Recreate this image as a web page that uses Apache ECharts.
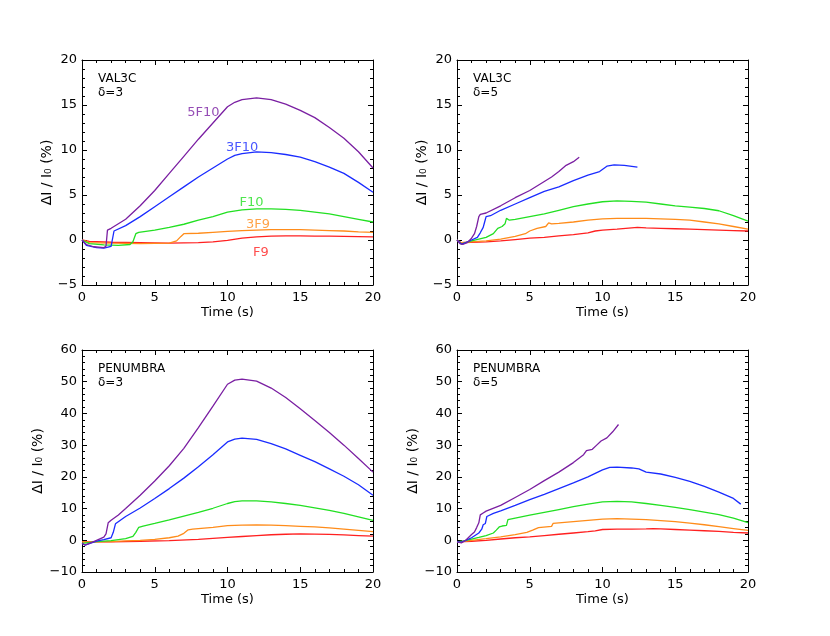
<!DOCTYPE html>
<html>
<head>
<meta charset="utf-8">
<script src="https://cdn.jsdelivr.net/npm/echarts@6/dist/echarts.min.js"></script>
<style>
  html, body { margin: 0; padding: 0; background: #fff; }
  #main { width: 830px; height: 636px; }
</style>
</head>
<body>
<div id="main"></div>
<script>
// panel 1 : VAL3C, delta=3
var val3_5F10 = [[0,0],[0.3,-0.5],[0.8,-0.75],[1.5,-0.85],[1.65,-0.7],[1.75,1.1],[2,1.3],[2.5,1.8],[3,2.3],[4,3.8],[5,5.5],[6,7.4],[7,9.3],[8,11.2],[9,13.0],[10,14.8],[10.5,15.3],[11,15.6],[12,15.8],[13,15.6],[14,15.1],[15,14.4],[16,13.6],[17,12.5],[18,11.3],[19,9.8],[20,8.0]];
var val3_3F10 = [[0,0],[0.3,-0.6],[1,-0.85],[1.5,-0.9],[2,-0.7],[2.2,1.0],[3,1.6],[4,2.6],[5,3.7],[6,4.8],[7,5.9],[8,7.0],[9,8.0],[10,9.0],[10.5,9.4],[11,9.6],[12,9.8],[13,9.7],[14,9.5],[15,9.2],[16,8.7],[17,8.1],[18,7.4],[19,6.4],[20,5.3]];
var val3_F10 = [[0,0],[0.5,-0.4],[1.5,-0.55],[2.5,-0.6],[3.3,-0.5],[3.5,-0.2],[3.7,0.7],[3.9,0.85],[5,1.1],[6,1.4],[7,1.75],[8,2.2],[9,2.6],[10,3.1],[11,3.35],[12,3.45],[13,3.45],[14,3.4],[15,3.3],[16,3.1],[17,2.9],[18,2.6],[19,2.3],[20,2.0]];
var val3_3F9 = [[0,0],[0.5,-0.3],[2,-0.35],[4,-0.4],[6,-0.35],[6.5,-0.1],[6.8,0.4],[7,0.7],[8,0.75],[9,0.85],[10,0.95],[11,1.05],[12,1.1],[13,1.15],[14,1.15],[15,1.15],[16,1.1],[17,1.05],[18,1.0],[19,0.9],[20,0.85]];
var val3_F9 = [[0,0],[0.5,-0.15],[2,-0.25],[4,-0.3],[6,-0.35],[8,-0.3],[9,-0.2],[10,-0.05],[11,0.2],[12,0.35],[13,0.42],[14,0.45],[15,0.45],[16,0.43],[17,0.42],[18,0.4],[19,0.38],[20,0.35]];

// panel 2 : VAL3C, delta=5
var val5_5F10 = [[0,0],[0.2,-0.4],[0.4,-0.5],[0.7,-0.3],[1.0,0.2],[1.2,0.7],[1.35,1.5],[1.5,2.6],[1.6,2.85],[2,3.0],[3,3.8],[4,4.7],[5,5.5],[6,6.5],[6.5,7.0],[7,7.6],[7.5,8.3],[8,8.7],[8.4,9.2]];
var val5_3F10 = [[0,0],[0.3,-0.45],[0.6,-0.3],[1,0],[1.4,0.3],[1.6,0.8],[1.8,1.4],[1.9,2.0],[2.0,2.6],[2.3,2.7],[3,3.3],[4,4.0],[5,4.7],[6,5.4],[7,5.9],[8,6.6],[9,7.2],[9.8,7.6],[10.3,8.2],[10.8,8.35],[11.5,8.3],[12.4,8.1]];
var val5_F10 = [[0,0],[0.3,-0.45],[0.6,-0.3],[1,-0.1],[1.5,0.1],[2,0.3],[2.5,0.7],[2.8,1.3],[3.1,1.5],[3.3,1.8],[3.4,2.4],[3.6,2.2],[4,2.3],[5,2.6],[6,2.9],[7,3.3],[8,3.7],[9,4.0],[10,4.25],[11,4.35],[12,4.3],[13,4.2],[14,4.0],[15,3.8],[16,3.65],[17,3.5],[18,3.25],[19,2.7],[20,2.1]];
var val5_3F9 = [[0,0],[0.3,-0.3],[1,-0.2],[2,-0.1],[3,0.1],[4,0.4],[4.7,0.7],[5.0,1.0],[5.5,1.3],[6.1,1.5],[6.3,1.9],[6.5,1.8],[7,1.85],[8,2.0],[9,2.2],[10,2.35],[11,2.4],[12,2.4],[13,2.4],[14,2.35],[15,2.3],[16,2.2],[17,2.0],[18,1.8],[19,1.5],[20,1.2]];
var val5_F9 = [[0,0],[0.3,-0.3],[1,-0.25],[2,-0.2],[3,-0.1],[4,0.05],[5,0.2],[6,0.3],[7,0.45],[8,0.6],[9,0.8],[9.5,1.0],[10,1.1],[11,1.2],[12,1.35],[12.4,1.4],[13,1.35],[14,1.3],[15,1.25],[16,1.2],[17,1.15],[18,1.1],[19,1.05],[20,1.0]];

// panel 3 : PENUMBRA, delta=3
var pen3_5F10 = [[0,-1],[0.2,-1.5],[0.6,-0.8],[1,0],[1.5,1.0],[1.65,2.0],[1.8,5.5],[2,6.3],[2.5,8.0],[3,10.0],[4,14.2],[5,18.7],[6,23.5],[7,29.0],[8,35.5],[9,42.3],[10,49.2],[10.5,50.5],[11,50.8],[12,50.2],[13,48.0],[14,45.0],[15,41.5],[16,37.8],[17,34.0],[18,30.0],[19,25.8],[20,21.5]];
var pen3_3F10 = [[0,-1],[0.2,-1.5],[0.6,-0.9],[1,-0.3],[1.5,0.2],[2,0.8],[2.15,2.5],[2.3,5.2],[3,7.5],[4,10.2],[5,13.2],[6,16.3],[7,19.6],[8,23.2],[9,27.0],[10,31.0],[10.5,31.9],[11,32.2],[12,31.8],[13,30.5],[14,28.8],[15,26.8],[16,24.8],[17,22.5],[18,20.2],[19,17.5],[20,14.2]];
var pen3_F10 = [[0,-1],[0.3,-0.8],[1,-0.4],[2,-0.1],[3,0.5],[3.5,1.2],[3.7,2.5],[3.9,4.1],[4.2,4.5],[5,5.3],[6,6.4],[7,7.6],[8,8.8],[9,10.1],[10,11.6],[10.5,12.2],[11,12.4],[12,12.4],[13,12.1],[14,11.6],[15,11.0],[16,10.2],[17,9.4],[18,8.5],[19,7.4],[20,6.3]];
var pen3_3F9 = [[0,-0.5],[1,-0.5],[2,-0.4],[3,-0.2],[4,0],[5,0.3],[6,0.8],[6.6,1.3],[7.0,2.2],[7.3,3.3],[7.6,3.5],[8,3.7],[9,4.1],[10,4.6],[11,4.8],[12,4.85],[13,4.8],[14,4.6],[15,4.4],[16,4.2],[17,3.9],[18,3.5],[19,3.1],[20,2.7]];
var pen3_F9 = [[0,-0.5],[2,-0.5],[4,-0.3],[6,-0.1],[8,0.3],[10,0.9],[11,1.2],[12,1.5],[13,1.75],[14,1.9],[15,2.0],[16,1.95],[17,1.85],[18,1.7],[19,1.5],[20,1.3]];

// panel 4 : PENUMBRA, delta=5
var pen5_5F10 = [[0,-0.5],[0.3,-0.8],[0.6,0],[1,1.8],[1.2,2.6],[1.35,4.0],[1.5,5.5],[1.6,8.0],[1.8,8.6],[2,9.2],[3,11.0],[4,13.5],[5,16.0],[6,18.8],[7,21.5],[8,24.5],[8.7,27.0],[8.9,28.3],[9.3,28.7],[9.6,30.0],[9.9,31.3],[10.3,32.3],[10.7,34.2],[11.1,36.5]];
var pen5_3F10 = [[0,-0.5],[0.3,-0.6],[0.6,0],[1,0.8],[1.5,2.3],[1.7,3.5],[1.8,4.9],[1.95,5.3],[2.05,7.5],[2.5,8.5],[3,9.3],[4,11.0],[5,12.8],[6,14.5],[7,16.3],[8,18.1],[9,20.0],[10,22.2],[10.5,23.0],[11,23.1],[12,22.8],[12.5,22.5],[13,21.5],[14,20.9],[15,19.8],[16,18.6],[17,17.0],[18,15.2],[19,13.2],[19.5,11.4]];
var pen5_F10 = [[0,-0.5],[0.5,-0.2],[1,0.4],[1.5,0.9],[2,1.5],[2.5,2.3],[2.7,3.2],[2.9,4.2],[3.1,4.5],[3.4,4.7],[3.5,6.5],[4,7.0],[5,7.9],[6,8.8],[7,9.7],[8,10.6],[9,11.4],[10,12.1],[11,12.3],[12,12.1],[13,11.6],[14,11.0],[15,10.4],[16,9.7],[17,8.9],[18,8.1],[19,7.0],[20,5.6]];
var pen5_3F9 = [[0,-0.5],[0.5,-0.3],[1,0],[2,0.5],[3,1.1],[4,1.8],[4.8,2.5],[5.2,3.2],[5.6,4.0],[6.5,4.4],[6.6,5.3],[7,5.5],[8,5.9],[9,6.3],[10,6.7],[11,6.8],[12,6.7],[13,6.5],[14,6.2],[15,5.9],[16,5.4],[17,4.9],[18,4.3],[19,3.7],[20,3.1]];
var pen5_F9 = [[0,-0.5],[1,-0.3],[2,0],[3,0.4],[4,0.8],[5,1.1],[6,1.5],[7,1.9],[8,2.3],[9,2.7],[9.5,3.0],[10,3.4],[11,3.5],[12,3.5],[13,3.6],[13.5,3.7],[14,3.6],[15,3.4],[16,3.2],[17,3.0],[18,2.8],[19,2.5],[20,2.3]];

// curve names in panel 1, at data positions
var curveNames = ["5F10", "3F10", "F10", "3F9", "F9"];
var curveLabelPos = [[8.35, 14.2], [11.0, 10.3], [11.65, 4.2], [12.1, 1.7], [12.3, -1.45]];
var colors = ["#7a1fa2", "#1a2cff", "#22e022", "#ff8c1a", "#ff2020"];

var panelNotes = [["VAL3C", "δ=3"], ["VAL3C", "δ=5"], ["PENUMBRA", "δ=3"], ["PENUMBRA", "δ=5"]];
var yRanges = [[-5, 20, 5], [-5, 20, 5], [-10, 60, 10], [-10, 60, 10]];
var xRange = [0, 20, 5];

var panels = [
  [val3_5F10, val3_3F10, val3_F10, val3_3F9, val3_F9],
  [val5_5F10, val5_3F10, val5_F10, val5_3F9, val5_F9],
  [pen3_5F10, pen3_3F10, pen3_F10, pen3_3F9, pen3_F9],
  [pen5_5F10, pen5_3F10, pen5_F10, pen5_3F9, pen5_F9]
];

var FONT = "DejaVu Sans";
var grids = [
  { left: 82, top: 60, width: 291, height: 225 },
  { left: 457, top: 60, width: 291, height: 225 },
  { left: 82, top: 350, width: 291, height: 222 },
  { left: 457, top: 350, width: 291, height: 222 }
];

var xAxes = [], yAxes = [], series = [], graphic = [];

function frameAxis(extra) {
  var a = {
    type: "value",
    axisLine: { onZero: false, lineStyle: { color: "#000", width: 1 } },
    axisTick: { inside: true, length: 5, lineStyle: { color: "#000" } },
    minorTick: { show: true, splitNumber: 5, length: 3, lineStyle: { color: "#000" } },
    axisLabel: { show: false },
    splitLine: { show: false }
  };
  for (var k in extra) a[k] = extra[k];
  return a;
}

grids.forEach(function (g, i) {
  var yr = yRanges[i];
  // bottom x axis with labels
  xAxes.push(frameAxis({
    gridIndex: i, position: "bottom",
    min: xRange[0], max: xRange[1], interval: xRange[2],
    name: "Time (s)", nameLocation: "middle", nameGap: 21,
    nameTextStyle: { color: "#000", fontSize: 13, fontFamily: FONT },
    axisLabel: { color: "#000", fontSize: 13, fontFamily: FONT, margin: 6 }
  }));
  // top x axis, ticks only
  xAxes.push(frameAxis({
    gridIndex: i, position: "top",
    min: xRange[0], max: xRange[1], interval: xRange[2]
  }));
  yAxes.push(frameAxis({
    gridIndex: i, position: "left",
    min: yr[0], max: yr[1], interval: yr[2],
    name: "ΔI / I₀ (%)", nameLocation: "middle", nameGap: 26,
    nameTextStyle: { color: "#000", fontSize: 14, fontFamily: FONT },
    axisLabel: { color: "#000", fontSize: 13, fontFamily: FONT, margin: 5,
      formatter: function (v) { return v < 0 ? "−" + Math.abs(v) : String(v); } }
  }));
  yAxes.push(frameAxis({
    gridIndex: i, position: "right",
    min: yr[0], max: yr[1], interval: yr[2]
  }));

  panels[i].forEach(function (d, k) {
    series.push({
      type: "line", name: curveNames[k], data: d,
      xAxisIndex: 2 * i, yAxisIndex: 2 * i,
      showSymbol: false, symbol: "none", clip: true,
      lineStyle: { color: colors[k], width: 1.3 },
      itemStyle: { color: colors[k] },
      z: 10 - k
    });
  });

  graphic.push({
    type: "text", left: g.left + 16, top: g.top + 12,
    style: { text: panelNotes[i].join("\n"), fill: "#000", font: "12px " + FONT, lineHeight: 14 }
  });
});

// curve names in first panel
series.push({
  type: "scatter", xAxisIndex: 0, yAxisIndex: 0,
  symbolSize: 0,
  data: curveLabelPos.map(function (p, k) {
    return { value: p, label: { show: true, formatter: curveNames[k], color: colors[k],
      position: "inside", fontSize: 13, fontFamily: FONT } };
  })
});

var chart = echarts.init(document.getElementById("main"));
chart.setOption({
  animation: false,
  backgroundColor: "#fff",
  grid: grids,
  xAxis: xAxes,
  yAxis: yAxes,
  series: series,
  graphic: graphic
});
</script>
</body>
</html>
